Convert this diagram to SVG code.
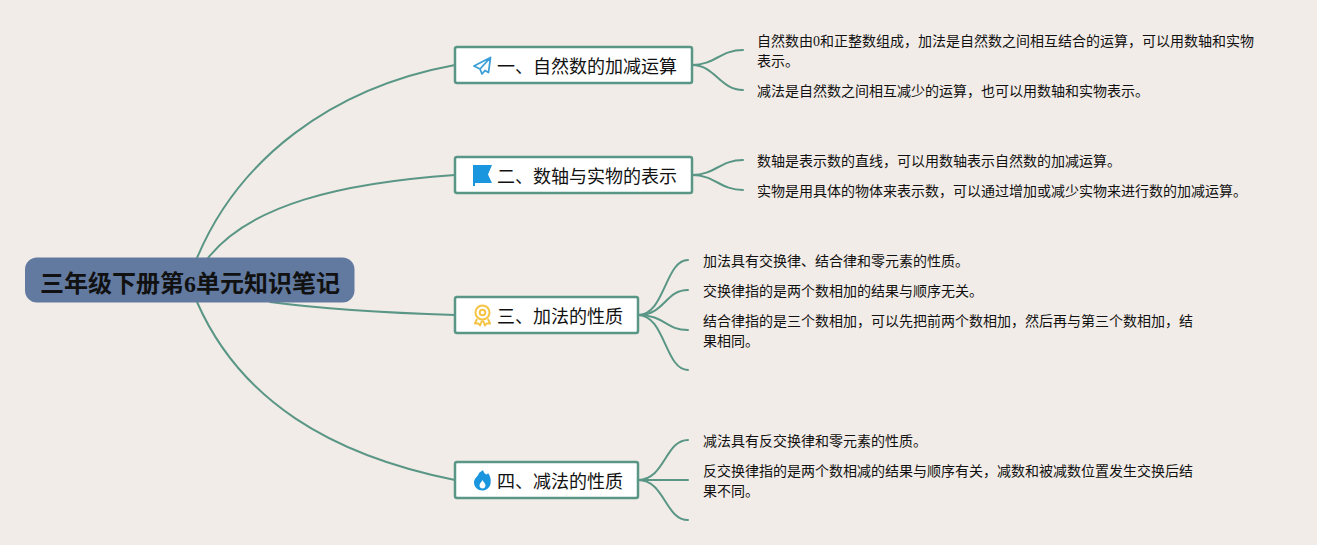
<svg xmlns="http://www.w3.org/2000/svg" width="1317" height="545" viewBox="0 0 1317 545">
<style>
text{font-family:"Liberation Serif","Noto Sans CJK SC",sans-serif;fill:#111}
.c{fill:none;stroke:#5a9686;stroke-width:2;stroke-linecap:round}
.n{fill:#fff;stroke:#5a9686;stroke-width:2.500}
.t{font-size:18px}
.s{font-size:14px}
</style>
<rect width="1317" height="545" fill="#f1ece7"/>
<g id="connectors">
<path class="c" d="M197 258C238 160 330 88 455 65"/>
<path class="c" d="M208 258C250 205 340 183 455 175"/>
<path class="c" d="M270 302C330 310 390 313 455 315"/>
<path class="c" d="M197 302C240 400 330 455 455 480"/>
<path class="c" d="M692 65C715 65 720 50 743 50"/>
<path class="c" d="M692 65C715 65 720 90 743 90"/>
<path class="c" d="M692 175C715 175 720 160 743 160"/>
<path class="c" d="M692 175C715 175 720 190 743 190"/>
<path class="c" d="M638 315C665 315 665 260 688 260"/>
<path class="c" d="M638 315C665 315 665 290 688 290"/>
<path class="c" d="M638 315C665 315 665 330 688 330"/>
<path class="c" d="M638 315C665 315 665 370 688 370"/>
<path class="c" d="M638 480C665 480 665 440 688 440"/>
<path class="c" d="M638 480H688"/>
<path class="c" d="M638 480C665 480 665 520 688 520"/>
</g>
<g id="root">
<rect x="25" y="257.500" width="329.500" height="45" rx="12" fill="#627aa0"/>
<text x="40" y="291.500" font-size="24" font-weight="700">三年级下册第6单元知识笔记</text>
</g>
<g id="node1">
<rect class="n" x="455" y="47" width="237" height="36" rx="2"/>
<path d="M490.500 57.500L474 66L480 69L482 74L485 70.500L488.500 72.500ZM490.500 57.500L480 69" fill="none" stroke="#3a9fd8" stroke-width="1.800" stroke-linejoin="round"/>
<text class="t" x="497" y="73">一、自然数的加减运算</text>
</g>
<g id="node2">
<rect class="n" x="455" y="157" width="237" height="36" rx="2"/>
<path d="M473 165H492L488 174.500L492 183H475V186H473Z" fill="#1a96df"/>
<text class="t" x="497" y="183">二、数轴与实物的表示</text>
</g>
<g id="node3">
<rect class="n" x="455" y="297" width="183" height="36" rx="2"/>
<g fill="none" stroke="#f5c445" stroke-width="2">
<circle cx="482.500" cy="312.500" r="7"/>
<circle cx="482.500" cy="312.500" r="2.800"/>
<path d="M477 319L475 323.500L478.500 323.500L480 325.500L482 320.500M488 319L490 323.500L486.500 323.500L485 325.500L483 320.500" stroke-linejoin="round"/>
</g>
<text class="t" x="497" y="323">三、加法的性质</text>
</g>
<g id="node4">
<rect class="n" x="455" y="462" width="183" height="36" rx="2"/>
<path d="M483 470C484 474 487 476 488 473C491 477 491 481 490.500 484C489.500 488 486 490.500 482.500 490.500C478 490.500 474 487 474 482.500C474 478 478 477 479 473C480 472 482 471 483 470Z" fill="#1a96df"/>
<path d="M482.500 480C483 482 485.500 483 485.500 485.500C485.500 487.500 484 488.500 482.500 488.500C481 488.500 479.500 487.500 479.500 485.500C479.500 483 482 482 482.500 480Z" fill="#fff"/>
<text class="t" x="497" y="488">四、减法的性质</text>
</g>
<g id="leaf1a"><text class="s" x="757" y="46">自然数由0和正整数组成，加法是自然数之间相互结合的运算，可以用数轴和实物</text><text class="s" x="757" y="66">表示。</text></g>
<g id="leaf1b"><text class="s" x="757" y="96">减法是自然数之间相互减少的运算，也可以用数轴和实物表示。</text></g>
<g id="leaf2a"><text class="s" x="757" y="166">数轴是表示数的直线，可以用数轴表示自然数的加减运算。</text></g>
<g id="leaf2b"><text class="s" x="757" y="196">实物是用具体的物体来表示数，可以通过增加或减少实物来进行数的加减运算。</text></g>
<g id="leaf3a"><text class="s" x="703" y="266">加法具有交换律、结合律和零元素的性质。</text></g>
<g id="leaf3b"><text class="s" x="703" y="296">交换律指的是两个数相加的结果与顺序无关。</text></g>
<g id="leaf3c"><text class="s" x="703" y="326">结合律指的是三个数相加，可以先把前两个数相加，然后再与第三个数相加，结</text><text class="s" x="703" y="346">果相同。</text></g>
<g id="leaf4a"><text class="s" x="703" y="446">减法具有反交换律和零元素的性质。</text></g>
<g id="leaf4b"><text class="s" x="703" y="476">反交换律指的是两个数相减的结果与顺序有关，减数和被减数位置发生交换后结</text><text class="s" x="703" y="496">果不同。</text></g>
</svg>
